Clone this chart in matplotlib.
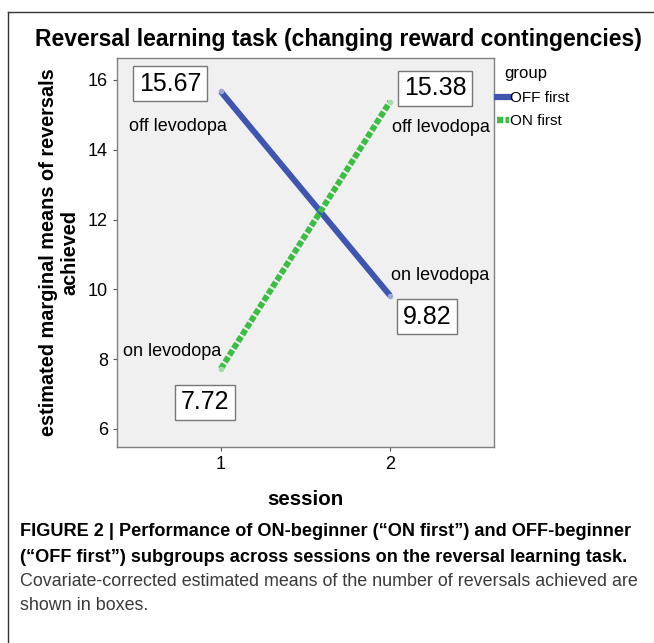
import matplotlib.pyplot as plt
from matplotlib.lines import Line2D

plt.rcParams['font.family'] = ['Liberation Sans', 'DejaVu Sans']

# data
sessions = [1, 2]
off_first = [15.67, 9.82]
on_first = [7.72, 15.38]
group_names = ['OFF first', 'ON first']
yticks = [6, 8, 10, 12, 14, 16]

blue = '#3f55b0'
green = '#3cbe44'

fig = plt.figure(figsize=(6.54, 6.43), dpi=100)
ax = fig.add_axes([0.1789, 0.3048, 0.5765, 0.605])
ax.set_facecolor('#f0f0f0')

ax.plot(sessions, off_first, color=blue, lw=4.3, solid_capstyle='butt',
        marker='o', ms=3, mfc='#9aa6d8', mec='#9aa6d8', label=group_names[0])
ax.plot(sessions, on_first, color=green, lw=4.3, dashes=(1.0, 0.35),
        dash_capstyle='butt', marker='o', ms=3, mfc='#a4e0a4', mec='#a4e0a4',
        label=group_names[1])

ax.set_xlim(0.387, 2.614)
ax.set_ylim(5.48, 16.63)
ax.set_xticks(sessions)
ax.set_yticks(yticks)
ax.tick_params(colors='#555555', labelcolor='black', labelsize=13, length=3, width=0.8)
for s in ax.spines.values():
    s.set_color('#808080')
    s.set_linewidth(1.0)

# value boxes
box = dict(boxstyle='square,pad=0.22', fc='white', ec='#777777', lw=1.0)
ax.text(0.70, 15.89, f'{off_first[0]:.2f}', fontsize=18, ha='center', va='center', bbox=box)
ax.text(2.266, 15.77, f'{on_first[1]:.2f}', fontsize=18, ha='center', va='center', bbox=box)
ax.text(2.218, 9.21, f'{off_first[1]:.2f}', fontsize=18, ha='center', va='center', bbox=box)
ax.text(0.907, 6.77, f'{on_first[0]:.2f}', fontsize=18, ha='center', va='center', bbox=box)

ax.text(0.749, 14.68, 'off levodopa', fontsize=13, ha='center', va='center')
ax.text(2.30, 14.65, 'off levodopa', fontsize=13, ha='center', va='center')
ax.text(2.295, 10.41, 'on levodopa', fontsize=13, ha='center', va='center')
ax.text(0.712, 8.21, 'on levodopa', fontsize=13, ha='center', va='center')

ax.set_xlabel('session', fontsize=14.8, fontweight='bold', labelpad=12)
ax.set_ylabel('estimated marginal means of reversals\nachieved', fontsize=14.3,
              fontweight='bold', linespacing=1.2, labelpad=6)

# legend
handles = [Line2D([], [], color=blue, lw=4.5),
           Line2D([], [], color=green, lw=4.5, dashes=(1.0, 0.35))]
ax.legend(handles, group_names, loc='upper left',
          bbox_to_anchor=(1.008, 0.915), frameon=False, fontsize=11,
          handlelength=0.75, handletextpad=0.1, labelspacing=0.6,
          borderaxespad=0.0, borderpad=0.0)
ax.text(1.028, 0.96, 'group', transform=ax.transAxes, fontsize=12,
        ha='left', va='center')

fig.text(0.517, 0.938, 'Reversal learning task (changing reward contingencies)',
         fontsize=16.5, fontweight='bold', ha='center', va='center')

# caption
fig.text(0.031, 1 - 532 / 643, 'FIGURE 2 | Performance of ON-beginner (\u201cON first\u201d) and OFF-beginner',
         fontsize=13.1, fontweight='bold', va='center')
fig.text(0.031, 1 - 557 / 643, '(\u201cOFF first\u201d) subgroups across sessions on the reversal learning task.',
         fontsize=13.1, fontweight='bold', va='center')
fig.text(0.031, 1 - 582 / 643, 'Covariate-corrected estimated means of the number of reversals achieved are',
         fontsize=12.9, va='center', color='#3a3a3a')
fig.text(0.031, 1 - 606 / 643, 'shown in boxes.',
         fontsize=12.9, va='center', color='#3a3a3a')

# frame lines round the figure
fig.add_artist(Line2D([8 / 654, 8 / 654], [0, 1 - 12 / 643], color='#333333', lw=1.0))
fig.add_artist(Line2D([8 / 654, 1], [1 - 12 / 643, 1 - 12 / 643], color='#333333', lw=1.0))

fig.savefig('out.png', dpi=100)
